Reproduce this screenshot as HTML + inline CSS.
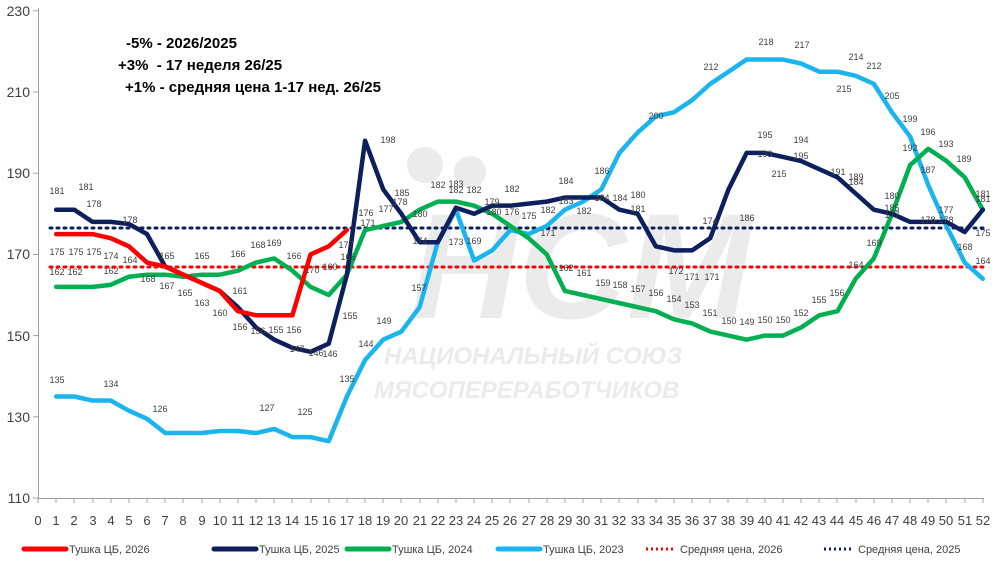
<!DOCTYPE html>
<html><head><meta charset="utf-8"><style>
body{margin:0;background:#fff;}
svg{display:block;font-family:"Liberation Sans",sans-serif;}
.t{font-size:9px;fill:#404040;}
.ax{font-size:14px;fill:#404040;}
.lg{font-size:11px;fill:#404040;}
</style></head><body>
<svg width="1000" height="572" viewBox="0 0 1000 572">
<!-- watermark -->
<g fill="#ebebeb">
<circle cx="425" cy="165" r="18"/><circle cx="470" cy="172" r="16"/>
<text x="410" y="318" font-size="150" font-weight="bold" font-style="italic" font-family="Liberation Sans">НСМ</text>
<text x="384" y="364" font-size="24" font-weight="bold" font-style="italic">НАЦИОНАЛЬНЫЙ СОЮЗ</text>
<text x="374" y="398" font-size="24" font-weight="bold" font-style="italic">МЯСОПЕРЕРАБОТЧИКОВ</text>
</g>
<!-- axes -->
<line x1="38.5" y1="8" x2="38.5" y2="498" stroke="#a0a0a0"/>
<line x1="38" y1="498.5" x2="984" y2="498.5" stroke="#a0a0a0"/>
<g stroke="#a0a0a0">
<line x1="33" y1="10.8" x2="38" y2="10.8"/><line x1="33" y1="92" x2="38" y2="92"/><line x1="33" y1="173.2" x2="38" y2="173.2"/><line x1="33" y1="254.4" x2="38" y2="254.4"/><line x1="33" y1="335.6" x2="38" y2="335.6"/><line x1="33" y1="416.8" x2="38" y2="416.8"/><line x1="33" y1="498" x2="38" y2="498"/>
</g>
<path d="M38 498v5M56 498v5M74 498v5M93 498v5M111 498v5M129 498v5M147 498v5M165 498v5M183 498v5M202 498v5M220 498v5M238 498v5M256 498v5M274 498v5M292 498v5M311 498v5M329 498v5M347 498v5M365 498v5M383 498v5M401 498v5M420 498v5M438 498v5M456 498v5M474 498v5M492 498v5M510 498v5M529 498v5M547 498v5M565 498v5M583 498v5M601 498v5M619 498v5M638 498v5M656 498v5M674 498v5M692 498v5M710 498v5M728 498v5M747 498v5M765 498v5M783 498v5M801 498v5M819 498v5M837 498v5M856 498v5M874 498v5M892 498v5M910 498v5M928 498v5M946 498v5M965 498v5M983 498v5" stroke="#a0a0a0"/>
<g class="ax" text-anchor="end">
<text x="30" y="16">230</text><text x="30" y="97">210</text><text x="30" y="178">190</text><text x="30" y="259">170</text><text x="30" y="341">150</text><text x="30" y="422">130</text><text x="30" y="503">110</text>
</g>
<g class="ax" text-anchor="middle" style="font-size:13px">
<text x="38" y="525">0</text><text x="56" y="525">1</text><text x="74" y="525">2</text><text x="93" y="525">3</text><text x="111" y="525">4</text><text x="129" y="525">5</text><text x="147" y="525">6</text><text x="165" y="525">7</text><text x="183" y="525">8</text><text x="202" y="525">9</text><text x="220" y="525">10</text><text x="238" y="525">11</text><text x="256" y="525">12</text><text x="274" y="525">13</text><text x="292" y="525">14</text><text x="311" y="525">15</text><text x="329" y="525">16</text><text x="347" y="525">17</text><text x="365" y="525">18</text><text x="383" y="525">19</text><text x="401" y="525">20</text><text x="420" y="525">21</text><text x="438" y="525">22</text><text x="456" y="525">23</text><text x="474" y="525">24</text><text x="492" y="525">25</text><text x="510" y="525">26</text><text x="529" y="525">27</text><text x="547" y="525">28</text><text x="565" y="525">29</text><text x="583" y="525">30</text><text x="601" y="525">31</text><text x="619" y="525">32</text><text x="638" y="525">33</text><text x="656" y="525">34</text><text x="674" y="525">35</text><text x="692" y="525">36</text><text x="710" y="525">37</text><text x="728" y="525">38</text><text x="747" y="525">39</text><text x="765" y="525">40</text><text x="783" y="525">41</text><text x="801" y="525">42</text><text x="819" y="525">43</text><text x="837" y="525">44</text><text x="856" y="525">45</text><text x="874" y="525">46</text><text x="892" y="525">47</text><text x="910" y="525">48</text><text x="928" y="525">49</text><text x="946" y="525">50</text><text x="965" y="525">51</text><text x="983" y="525">52</text>
</g>
<!-- averages -->
<line x1="50" y1="228" x2="984" y2="228" stroke="#0d1f5c" stroke-width="3" stroke-dasharray="2 5" stroke-linecap="round"/>
<line x1="50" y1="267" x2="984" y2="267" stroke="#ff0000" stroke-width="3" stroke-dasharray="2 5" stroke-linecap="round"/>
<g transform="translate(38,498) scale(18.17,-4.06)" fill="none" stroke-width="4.5" stroke-linejoin="round" stroke-linecap="round">
<polyline vector-effect="non-scaling-stroke" stroke="#1ab4ee" points="1,25 2,25 3,24 4,24 5,21.5 6,19.5 7,16 8,16 9,16 10,16.5 11,16.5 12,16 13,17 14,15 15,15 16,14 17,25 18,34 19,39 20,41 21,47 22,63 23,71 24,58.5 25,61 26,66 27,65 28,67 29,71 30,73 31,76 32,85 33,90 34,94 35,95 36,98 37,102 38,105 39,108 40,108 41,108 42,107 43,105 44,105 45,104 46,102 47,95 48,89 49,77 50,67 51,58 52,54"/>
<polyline vector-effect="non-scaling-stroke" stroke="#00b050" points="1,52 2,52 3,52 4,52.5 5,54.5 6,55 7,55 8,54.5 9,55 10,55 11,56 12,58 13,59 14,56 15,52 16,50 17,55 18,66 19,67 20,68 21,71 22,73 23,73 24,72 25,70 26,67 27,64 28,60 29,51 30,50 31,49 32,48 33,47 34,46 35,44 36,43 37,41 38,40 39,39 40,40 41,40 42,42 43,45 44,46 45,54 46,59 47,70 48,82 49,86 50,83 51,79 52,71"/>
<polyline vector-effect="non-scaling-stroke" stroke="#0d1f5c" points="1,71 2,71 3,68 4,68 5,67.5 6,65 7,57 8,55 9,53 10,51 11,47 12,42 13,39 14,37 15,36 16,38 17,55 18,88 19,76 20,70 21,63 22,63 23,71.5 24,70 25,72 26,72 27,72.5 28,73 29,74 30,74 31,74 32,71 33,70 34,62 35,61 36,61 37,64 38,76 39,85 40,85 41,84 42,83 43,81 44,79 45,75 46,71 47,70 48,68 49,68 50,68 51,65.5 52,71"/>
<polyline vector-effect="non-scaling-stroke" stroke="#ff0000" points="1,65 2,65 3,65 4,64 5,62 6,58 7,57 8,55 9,53 10,51 11,46 12,45 13,45 14,45 15,60 16,62 17,66"/>
</g>
<!-- data labels (subset) -->
<g class="t" text-anchor="middle">
<text x="57" y="194">181</text><text x="86" y="190">181</text><text x="94" y="207">178</text><text x="130" y="223">178</text>
<text x="57" y="255">175</text><text x="76" y="255">175</text><text x="94" y="255">175</text><text x="111" y="259">174</text><text x="130" y="263">164</text>
<text x="57" y="275">162</text><text x="75" y="275">162</text><text x="111" y="274">162</text><text x="148" y="282">168</text><text x="167" y="259">165</text><text x="167" y="289">167</text><text x="185" y="296">165</text><text x="202" y="259">165</text><text x="202" y="306">163</text><text x="220" y="316">160</text><text x="240" y="294">161</text><text x="238" y="257">166</text><text x="258" y="248">168</text><text x="274" y="246">169</text><text x="294" y="259">166</text>
<text x="240" y="330">156</text><text x="258" y="334">156</text><text x="276" y="333">155</text><text x="294" y="333">156</text><text x="297" y="352">147</text><text x="316" y="356">146</text><text x="330" y="357">146</text>
<text x="57" y="383">135</text><text x="111" y="387">134</text><text x="160" y="412">126</text><text x="267" y="411">127</text><text x="305" y="415">125</text><text x="347" y="382">135</text>
<text x="350" y="319">155</text><text x="366" y="347">144</text><text x="384" y="324">149</text><text x="419" y="291">157</text>
<text x="388" y="143">198</text><text x="366" y="216">176</text><text x="386" y="212">177</text><text x="402" y="196">185</text><text x="400" y="205">178</text><text x="420" y="217">180</text><text x="420" y="244">174</text><text x="438" y="188">182</text><text x="456" y="187">183</text><text x="456" y="193">182</text><text x="474" y="193">182</text><text x="474" y="244">169</text><text x="456" y="245">173</text><text x="492" y="205">179</text><text x="494" y="215">180</text><text x="512" y="192">182</text><text x="512" y="215">176</text><text x="529" y="219">175</text><text x="548" y="236">171</text><text x="548" y="213">182</text><text x="566" y="184">184</text><text x="566" y="204">183</text><text x="584" y="214">182</text><text x="602" y="174">186</text><text x="602" y="201">184</text><text x="620" y="201">184</text><text x="638" y="198">180</text><text x="638" y="212">181</text>
<text x="566" y="271">162</text><text x="584" y="276">161</text><text x="603" y="286">159</text><text x="620" y="288">158</text><text x="638" y="292">157</text><text x="656" y="296">156</text><text x="674" y="302">154</text><text x="692" y="308">153</text><text x="710" y="316">151</text><text x="729" y="324">150</text><text x="747" y="325">149</text><text x="765" y="323">150</text><text x="783" y="323">150</text><text x="801" y="316">152</text><text x="819" y="303">155</text><text x="837" y="296">156</text><text x="856" y="268">164</text><text x="874" y="246">169</text>
<text x="676" y="274">172</text><text x="692" y="280">171</text><text x="712" y="280">171</text><text x="710" y="224">174</text><text x="747" y="221">186</text><text x="765" y="138">195</text><text x="765" y="157">193</text><text x="801" y="143">194</text><text x="801" y="159">195</text><text x="779" y="177">215</text><text x="838" y="175">191</text><text x="856" y="180">189</text><text x="856" y="185">184</text><text x="892" y="199">180</text><text x="892" y="211">185</text><text x="892" y="218">177</text>
<text x="656" y="119">200</text><text x="711" y="70">212</text><text x="766" y="45">218</text><text x="802" y="48">217</text><text x="844" y="92">215</text><text x="856" y="60">214</text><text x="874" y="69">212</text><text x="892" y="99">205</text><text x="910" y="122">199</text><text x="910" y="151">192</text><text x="928" y="135">196</text><text x="946" y="147">193</text><text x="964" y="162">189</text><text x="928" y="173">187</text><text x="946" y="213">177</text><text x="946" y="223">178</text><text x="928" y="223">178</text><text x="965" y="250">168</text><text x="983" y="264">164</text><text x="983" y="236">175</text><text x="983" y="197">181</text><text x="983" y="202">181</text>
<text x="346" y="248">177</text><text x="348" y="260">165</text><text x="368" y="226">171</text><text x="330" y="270">160</text><text x="312" y="273">170</text>
</g>
<!-- annotations -->
<g font-weight="bold" fill="#000">
<text x="126" y="48" style="font-size:15px">-5% - 2026/2025</text>
<text x="118" y="70" style="font-size:15px">+3%&#160; - 17 неделя 26/25</text>
<text x="125" y="92" style="font-size:15px">+1% - средняя цена 1-17 нед. 26/25</text>
</g>
<!-- legend -->
<g stroke-width="5" stroke-linecap="round">
<line x1="24" y1="549" x2="66" y2="549" stroke="#ff0000"/>
<line x1="214" y1="549" x2="256" y2="549" stroke="#0d1f5c"/>
<line x1="347" y1="549" x2="389" y2="549" stroke="#00b050"/>
<line x1="498" y1="549" x2="540" y2="549" stroke="#1ab4ee"/>
</g>
<line x1="646" y1="549" x2="676" y2="549" stroke="#ff0000" stroke-width="3" stroke-dasharray="2 3"/>
<line x1="824" y1="549" x2="854" y2="549" stroke="#0d1f5c" stroke-width="3" stroke-dasharray="2 3"/>
<g class="lg">
<text x="69" y="553">Тушка ЦБ, 2026</text>
<text x="259" y="553">Тушка ЦБ, 2025</text>
<text x="392" y="553">Тушка ЦБ, 2024</text>
<text x="543" y="553">Тушка ЦБ, 2023</text>
<text x="680" y="553">Средняя цена, 2026</text>
<text x="858" y="553">Средняя цена, 2025</text>
</g>
</svg>
</body></html>
